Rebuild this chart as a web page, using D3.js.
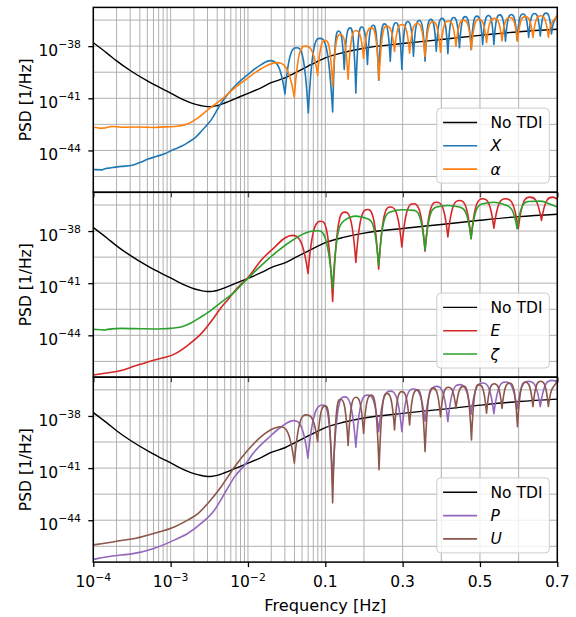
<!DOCTYPE html>
<html>
<head>
<meta charset="utf-8">
<script src="https://cdn.jsdelivr.net/npm/d3@7"></script>
<style>
  body { margin: 0; background: #fff; }
  text { font-family: "DejaVu Sans", sans-serif; }
</style>
</head>
<body>
<svg id="chart" width="576" height="617"></svg>
<script>
// every series: [frequency in Hz, log10 of PSD in 1/Hz]
const noTdi = [[1e-4,-37.8],[1.5e-4,-38.4],[2e-4,-38.85],[3e-4,-39.4],[5e-4,-40.0],[7e-4,-40.35],[1e-3,-40.7],[1.5e-3,-41.1],[2e-3,-41.32],[2.5e-3,-41.43],[3e-3,-41.48],[3.5e-3,-41.47],[4e-3,-41.42],[5e-3,-41.27],[7e-3,-41.0],[0.01,-40.72],[0.015,-40.38],[0.02,-40.1],[0.03,-39.83],[0.04,-39.55],[0.06,-39.15],[0.08,-38.87],[0.1,-38.67],[0.15,-38.35],[0.2,-38.12],[0.3,-37.85],[0.4,-37.62],[0.5,-37.38],[0.6,-37.17],[0.7,-37.03]];

const tdiX = [[1e-4,-45.1],[1.3e-4,-45.12],[1.7e-4,-45.0],[2.3e-4,-44.92],[3.1e-4,-44.87],[4e-4,-44.7],[5.1e-4,-44.5],[6.5e-4,-44.35],[8.4e-4,-44.19],[1.13e-3,-43.92],[1.4e-3,-43.75],[1.68e-3,-43.54],[2.1e-3,-43.25],[2.49e-3,-42.9],[3.36e-3,-42.23],[4.52e-3,-41.27],[5.5e-3,-40.75],[6.74e-3,-40.31],[0.01,-39.63],[0.0148,-39.06],[0.0193,-38.83],[0.0301,-40.75],[0.0427,-38.09],[0.0603,-41.84],[0.085,-37.55],[0.119,-41.79],[0.134,-37.13],[0.149,-39.34],[0.164,-36.95],[0.179,-40.69],[0.194,-36.9],[0.209,-39.06],[0.224,-36.8],[0.238,-39.96],[0.253,-36.72],[0.268,-38.87],[0.283,-36.65],[0.298,-39.34],[0.313,-36.58],[0.328,-38.58],[0.343,-36.52],[0.358,-38.87],[0.373,-36.46],[0.387,-38.29],[0.402,-36.4],[0.417,-38.44],[0.432,-36.35],[0.447,-38.09],[0.462,-36.3],[0.477,-38.19],[0.492,-36.27],[0.507,-37.9],[0.522,-36.24],[0.536,-37.9],[0.551,-36.2],[0.566,-37.71],[0.581,-36.18],[0.596,-37.65],[0.611,-36.15],[0.626,-37.5],[0.641,-36.12],[0.656,-37.42],[0.671,-36.1],[0.685,-37.3],[0.7,-36.2]];

const tdiAlpha = [[1e-4,-42.67],[1.2e-4,-42.72],[1.4e-4,-42.71],[1.7e-4,-42.62],[2.3e-4,-42.67],[3.5e-4,-42.65],[6.2e-4,-42.68],[1.13e-3,-42.62],[1.68e-3,-42.46],[2.26e-3,-42.13],[3.04e-3,-41.65],[4.52e-3,-41.08],[6.74e-3,-40.4],[0.01,-39.82],[0.0148,-39.3],[0.0235,-38.95],[0.0398,-40.94],[0.055,-38.0],[0.0796,-39.67],[0.1,-37.67],[0.119,-40.3],[0.139,-37.33],[0.159,-39.92],[0.179,-37.1],[0.199,-38.7],[0.219,-36.95],[0.239,-39.95],[0.259,-36.85],[0.279,-38.3],[0.298,-36.75],[0.318,-38.4],[0.338,-36.7],[0.358,-38.6],[0.378,-36.6],[0.398,-38.35],[0.418,-36.55],[0.438,-38.0],[0.458,-36.5],[0.478,-38.2],[0.497,-36.45],[0.517,-37.8],[0.537,-36.4],[0.557,-37.7],[0.577,-36.35],[0.597,-37.72],[0.617,-36.3],[0.637,-37.5],[0.657,-36.25],[0.677,-37.5],[0.7,-36.2]];

const tdiE = [[1e-4,-46.28],[1.4e-4,-46.18],[2.3e-4,-46.03],[3.5e-4,-45.75],[6.2e-4,-45.42],[1.13e-3,-45.07],[1.68e-3,-44.56],[2.5e-3,-43.89],[3.7e-3,-42.93],[4.5e-3,-42.4],[5.5e-3,-41.95],[6.74e-3,-41.45],[8.2e-3,-41.05],[0.01,-40.68],[0.0148,-39.68],[0.0222,-38.92],[0.03,-38.4],[0.037,-38.25],[0.0598,-40.44],[0.088,-37.44],[0.119,-42.05],[0.15,-36.91],[0.179,-39.8],[0.209,-36.76],[0.238,-40.2],[0.268,-36.62],[0.298,-38.92],[0.328,-36.43],[0.358,-39.16],[0.388,-36.34],[0.417,-38.34],[0.447,-36.24],[0.477,-38.44],[0.507,-36.14],[0.536,-37.83],[0.566,-36.14],[0.599,-37.86],[0.629,-36.05],[0.659,-37.39],[0.688,-36.05],[0.7,-36.15]];

const tdiZeta = [[1e-4,-43.66],[1.4e-4,-43.7],[2.3e-4,-43.6],[4e-4,-43.62],[6.2e-4,-43.64],[1e-3,-43.6],[1.4e-3,-43.51],[1.8e-3,-43.31],[2.5e-3,-42.93],[3.36e-3,-42.55],[4.5e-3,-42.1],[5.5e-3,-41.82],[6.74e-3,-41.5],[8.2e-3,-41.1],[0.01,-40.72],[0.0143,-40.05],[0.0235,-39.2],[0.0386,-38.5],[0.06,-38.06],[0.08,-37.98],[0.119,-41.3],[0.15,-37.39],[0.179,-37.14],[0.209,-37.29],[0.238,-40.0],[0.268,-36.91],[0.298,-36.77],[0.328,-36.81],[0.358,-39.1],[0.388,-36.62],[0.417,-36.53],[0.447,-36.62],[0.477,-38.44],[0.507,-36.43],[0.536,-36.34],[0.566,-36.5],[0.596,-37.86],[0.626,-36.3],[0.656,-36.28],[0.686,-36.5],[0.7,-36.62]];

const tdiP = [[1e-4,-46.25],[1.4e-4,-46.13],[2.3e-4,-46.0],[3e-4,-45.95],[6.2e-4,-45.61],[1.13e-3,-45.13],[1.68e-3,-44.75],[2.5e-3,-44.17],[3.7e-3,-43.41],[5e-3,-42.45],[6.74e-3,-41.49],[9.1e-3,-40.82],[0.0122,-40.05],[0.0182,-39.28],[0.027,-38.62],[0.0386,-38.27],[0.0596,-40.43],[0.094,-37.37],[0.119,-41.8],[0.149,-36.9],[0.179,-39.8],[0.209,-36.8],[0.238,-38.9],[0.268,-36.57],[0.298,-38.9],[0.328,-36.45],[0.358,-38.3],[0.388,-36.3],[0.417,-38.33],[0.447,-36.2],[0.477,-37.9],[0.507,-36.1],[0.536,-37.87],[0.566,-36.05],[0.596,-37.6],[0.626,-36.0],[0.656,-37.46],[0.686,-35.95],[0.7,-36.0]];

const tdiU = [[1e-4,-45.42],[1.4e-4,-45.33],[2.3e-4,-45.17],[3e-4,-45.1],[6.2e-4,-44.75],[1.13e-3,-44.37],[1.68e-3,-43.98],[2.28e-3,-43.6],[3.04e-3,-43.02],[4.5e-3,-42.07],[6.74e-3,-40.92],[0.01,-39.96],[0.0148,-39.19],[0.0222,-38.7],[0.026,-38.62],[0.0398,-40.72],[0.057,-37.94],[0.0796,-39.48],[0.1,-37.42],[0.119,-43.0],[0.139,-37.04],[0.159,-39.7],[0.179,-36.92],[0.199,-39.0],[0.219,-36.8],[0.239,-41.1],[0.259,-36.7],[0.279,-38.8],[0.298,-36.6],[0.318,-38.52],[0.338,-36.5],[0.358,-40.05],[0.378,-36.4],[0.398,-38.04],[0.418,-36.35],[0.438,-37.56],[0.458,-36.3],[0.478,-39.38],[0.497,-36.2],[0.517,-37.84],[0.537,-36.15],[0.557,-37.56],[0.577,-36.1],[0.597,-38.62],[0.617,-36.05],[0.637,-37.46],[0.657,-36.0],[0.677,-37.46],[0.7,-35.95]];

// axis ticks
const xTickFreqs = [1e-4, 1e-3, 1e-2, 0.1, 0.3, 0.5, 0.7];
const xTickLabels = [['10', '−4'], ['10', '−3'], ['10', '−2'], ['0.1', ''], ['0.3', ''], ['0.5', ''], ['0.7', '']];
const yTickExps = [-38, -41, -44];
const yGridExps = [-36.5, -38, -39.5, -41, -42.5, -44, -45.5];

const panels = [
    [['No TDI', noTdi, '#000000', false], ['X', tdiX, '#1f77b4', true], ['α', tdiAlpha, '#ff7f0e', true]],
    [['No TDI', noTdi, '#000000', false], ['E', tdiE, '#d62728', true], ['ζ', tdiZeta, '#2ca02c', true]],
    [['No TDI', noTdi, '#000000', false], ['P', tdiP, '#9467bd', true], ['U', tdiU, '#8c564b', true]]
];

const left = 93.3, right = 557.3;
const panelTop = [7.4, 192.3, 377.2];
const panelH = 184.9;
const yExp = [-46.41, -35.77];
const fontSize = 15.5;

const svg = d3.select('#chart');

// log axis up to 0.1 Hz, linear from 0.1 to 0.7 Hz, both halves the same width
const xMid = (left + right) / 2;
const xLog = d3.scaleLog().domain([1e-4, 0.1]).range([left, xMid]);
const xLin = d3.scaleLinear().domain([0.1, 0.7]).range([xMid, right]);
const x = f => f <= 0.1 ? xLog(f) : xLin(f);
const xTick = d3.scaleLinear().domain([0, 6]).range([left, right]);

const xGrid = [];
[1e-4, 1e-3, 1e-2].forEach(d => { for (let k = 1; k < 10; k++) xGrid.push(k * d); });
xGrid.push(0.1, 0.2, 0.3, 0.4, 0.5, 0.6, 0.7);

// monotone curve, but the notches (local minima of the PSD) are drawn as cusps
// so the lobes come out round on top and sharp at the bottom
function notchCurve(context) {
    let pts;
    return {
        areaStart() {}, areaEnd() {},
        lineStart() { pts = []; },
        point(px, py) { pts.push([+px, +py]); },
        lineEnd() {
            const n = pts.length;
            if (!n) return;
            context.moveTo(pts[0][0], pts[0][1]);
            if (n < 2) return;
            const s = [], m = [], notch = [];
            for (let i = 0; i < n - 1; i++) {
                s.push((pts[i + 1][1] - pts[i][1]) / (pts[i + 1][0] - pts[i][0]));
            }
            for (let i = 0; i < n; i++) {
                notch.push(false);
                if (i === 0) { m.push(s[0]); continue; }
                if (i === n - 1) { m.push(s[n - 2]); continue; }
                const s0 = s[i - 1], s1 = s[i];
                if (s0 * s1 <= 0) {
                    m.push(0);
                    if (s0 > 0 && s1 < 0) notch[i] = true;
                } else {
                    const h0 = pts[i][0] - pts[i - 1][0], h1 = pts[i + 1][0] - pts[i][0];
                    const p = (s0 * h1 + s1 * h0) / (h0 + h1);
                    m.push((Math.sign(s0) + Math.sign(s1)) * Math.min(Math.abs(s0), Math.abs(s1), 0.5 * Math.abs(p)));
                }
            }
            for (let i = 0; i < n - 1; i++) {
                const [x0, y0] = pts[i], [x1, y1] = pts[i + 1];
                const dx = x1 - x0;
                let a = m[i], b = m[i + 1];
                if (notch[i] && s[i] !== 0) {
                    const beta = Math.min(3, Math.abs(b / s[i]));
                    a = s[i] * Math.sqrt(9 - beta * beta);
                }
                if (notch[i + 1] && s[i] !== 0) {
                    const alpha = Math.min(3, Math.abs(a / s[i]));
                    b = s[i] * Math.sqrt(9 - alpha * alpha);
                }
                context.bezierCurveTo(x0 + dx / 3, y0 + a * dx / 3, x1 - dx / 3, y1 - b * dx / 3, x1, y1);
            }
        }
    };
}

panels.forEach((series, i) => {
    const top = panelTop[i], bottom = top + panelH;
    const y = d3.scaleLog()
        .domain([Math.pow(10, yExp[0]), Math.pow(10, yExp[1])])
        .range([bottom, top]);

    svg.append('clipPath').attr('id', 'clip' + i)
        .append('rect')
        .attr('x', left).attr('y', top)
        .attr('width', right - left).attr('height', panelH);

    const g = svg.append('g');

    // grid
    g.selectAll('.vgrid')
        .data(xGrid)
        .enter().append('line')
        .attr('x1', d => x(d)).attr('x2', d => x(d))
        .attr('y1', top).attr('y2', bottom)
        .attr('stroke', '#b0b0b0').attr('stroke-width', 1);
    g.selectAll('.hgrid')
        .data(yGridExps)
        .enter().append('line')
        .attr('x1', left).attr('x2', right)
        .attr('y1', d => y(Math.pow(10, d))).attr('y2', d => y(Math.pow(10, d)))
        .attr('stroke', '#b0b0b0').attr('stroke-width', 1);

    series.forEach(s => {
        const createLine = d3.line()
            .x(d => x(d[0]))
            .y(d => y(Math.pow(10, d[1])))
            .curve(s[0] === 'No TDI' ? d3.curveMonotoneX : notchCurve);
        g.append('path')
            .attr('clip-path', 'url(#clip' + i + ')')
            .attr('d', createLine(s[1]))
            .attr('fill', 'none')
            .attr('stroke', s[2])
            .attr('stroke-width', s[0] === 'No TDI' ? 1.4 : 1.6)
            .attr('stroke-linejoin', 'round');
    });

    // axes (ticks only, spines drawn as a frame)
    const xAxis = d3.axisBottom(xTick).tickValues(d3.range(7)).tickSize(5).tickFormat('');
    const xg = g.append('g').attr('transform', 'translate(0,' + bottom + ')').call(xAxis);
    const yAxis = d3.axisLeft(y).tickValues(yTickExps.map(e => Math.pow(10, e))).tickSize(5).tickFormat('');
    const yg = g.append('g').attr('transform', 'translate(' + left + ',0)').call(yAxis);
    [xg, yg].forEach(a => {
        a.select('.domain').remove();
        a.selectAll('line').attr('stroke', '#000').attr('stroke-width', 1.3);
    });

    g.append('rect')
        .attr('x', left).attr('y', top)
        .attr('width', right - left).attr('height', panelH)
        .attr('fill', 'none').attr('stroke', '#000').attr('stroke-width', 1.5);

    // y tick labels
    yTickExps.forEach(e => {
        const t = g.append('text')
            .attr('x', 81).attr('y', y(Math.pow(10, e)) + 9.8)
            .attr('text-anchor', 'end')
            .attr('font-size', fontSize);
        t.append('tspan').text('10');
        t.append('tspan').attr('dy', -8).attr('font-size', 10.8).text('−' + Math.abs(e));
    });

    g.append('text')
        .attr('transform', 'translate(30.5,' + (top + panelH / 2) + ') rotate(-90)')
        .attr('text-anchor', 'middle')
        .attr('font-size', fontSize)
        .text('PSD [1/Hz]');

    // legend
    const lgW = 112.5, lgH = 75;
    const lgX = right - 8 - lgW, lgY = bottom - 9.2 - lgH;
    const lg = g.append('g').attr('transform', 'translate(' + lgX + ',' + lgY + ')');
    lg.append('rect')
        .attr('width', lgW).attr('height', lgH).attr('rx', 4)
        .attr('fill', '#fff').attr('fill-opacity', 0.8)
        .attr('stroke', '#cccccc').attr('stroke-width', 1);
    series.forEach((s, j) => {
        const ry = 14.4 + j * 23.3;
        lg.append('line')
            .attr('x1', 6.3).attr('x2', 40.3).attr('y1', ry).attr('y2', ry)
            .attr('stroke', s[2]).attr('stroke-width', s[0] === 'No TDI' ? 1.4 : 1.6);
        lg.append('text')
            .attr('x', 53.7).attr('y', ry + 5.6)
            .attr('font-size', fontSize)
            .attr('font-style', s[3] ? 'italic' : 'normal')
            .text(s[0]);
    });
});

// x tick labels on the bottom panel
const xLabelBase = 587;
xTickFreqs.forEach((f, i) => {
    const t = svg.append('text')
        .attr('x', xTick(i)).attr('y', xLabelBase)
        .attr('text-anchor', 'middle')
        .attr('font-size', fontSize);
    t.append('tspan').text(xTickLabels[i][0]);
    if (xTickLabels[i][1]) {
        t.append('tspan').attr('dy', -6.5).attr('font-size', 10.8).text(xTickLabels[i][1]);
    }
});

svg.append('text')
    .attr('x', (left + right) / 2).attr('y', 611.3)
    .attr('text-anchor', 'middle')
    .attr('font-size', 16.2)
    .text('Frequency [Hz]');
</script>
</body>
</html>
